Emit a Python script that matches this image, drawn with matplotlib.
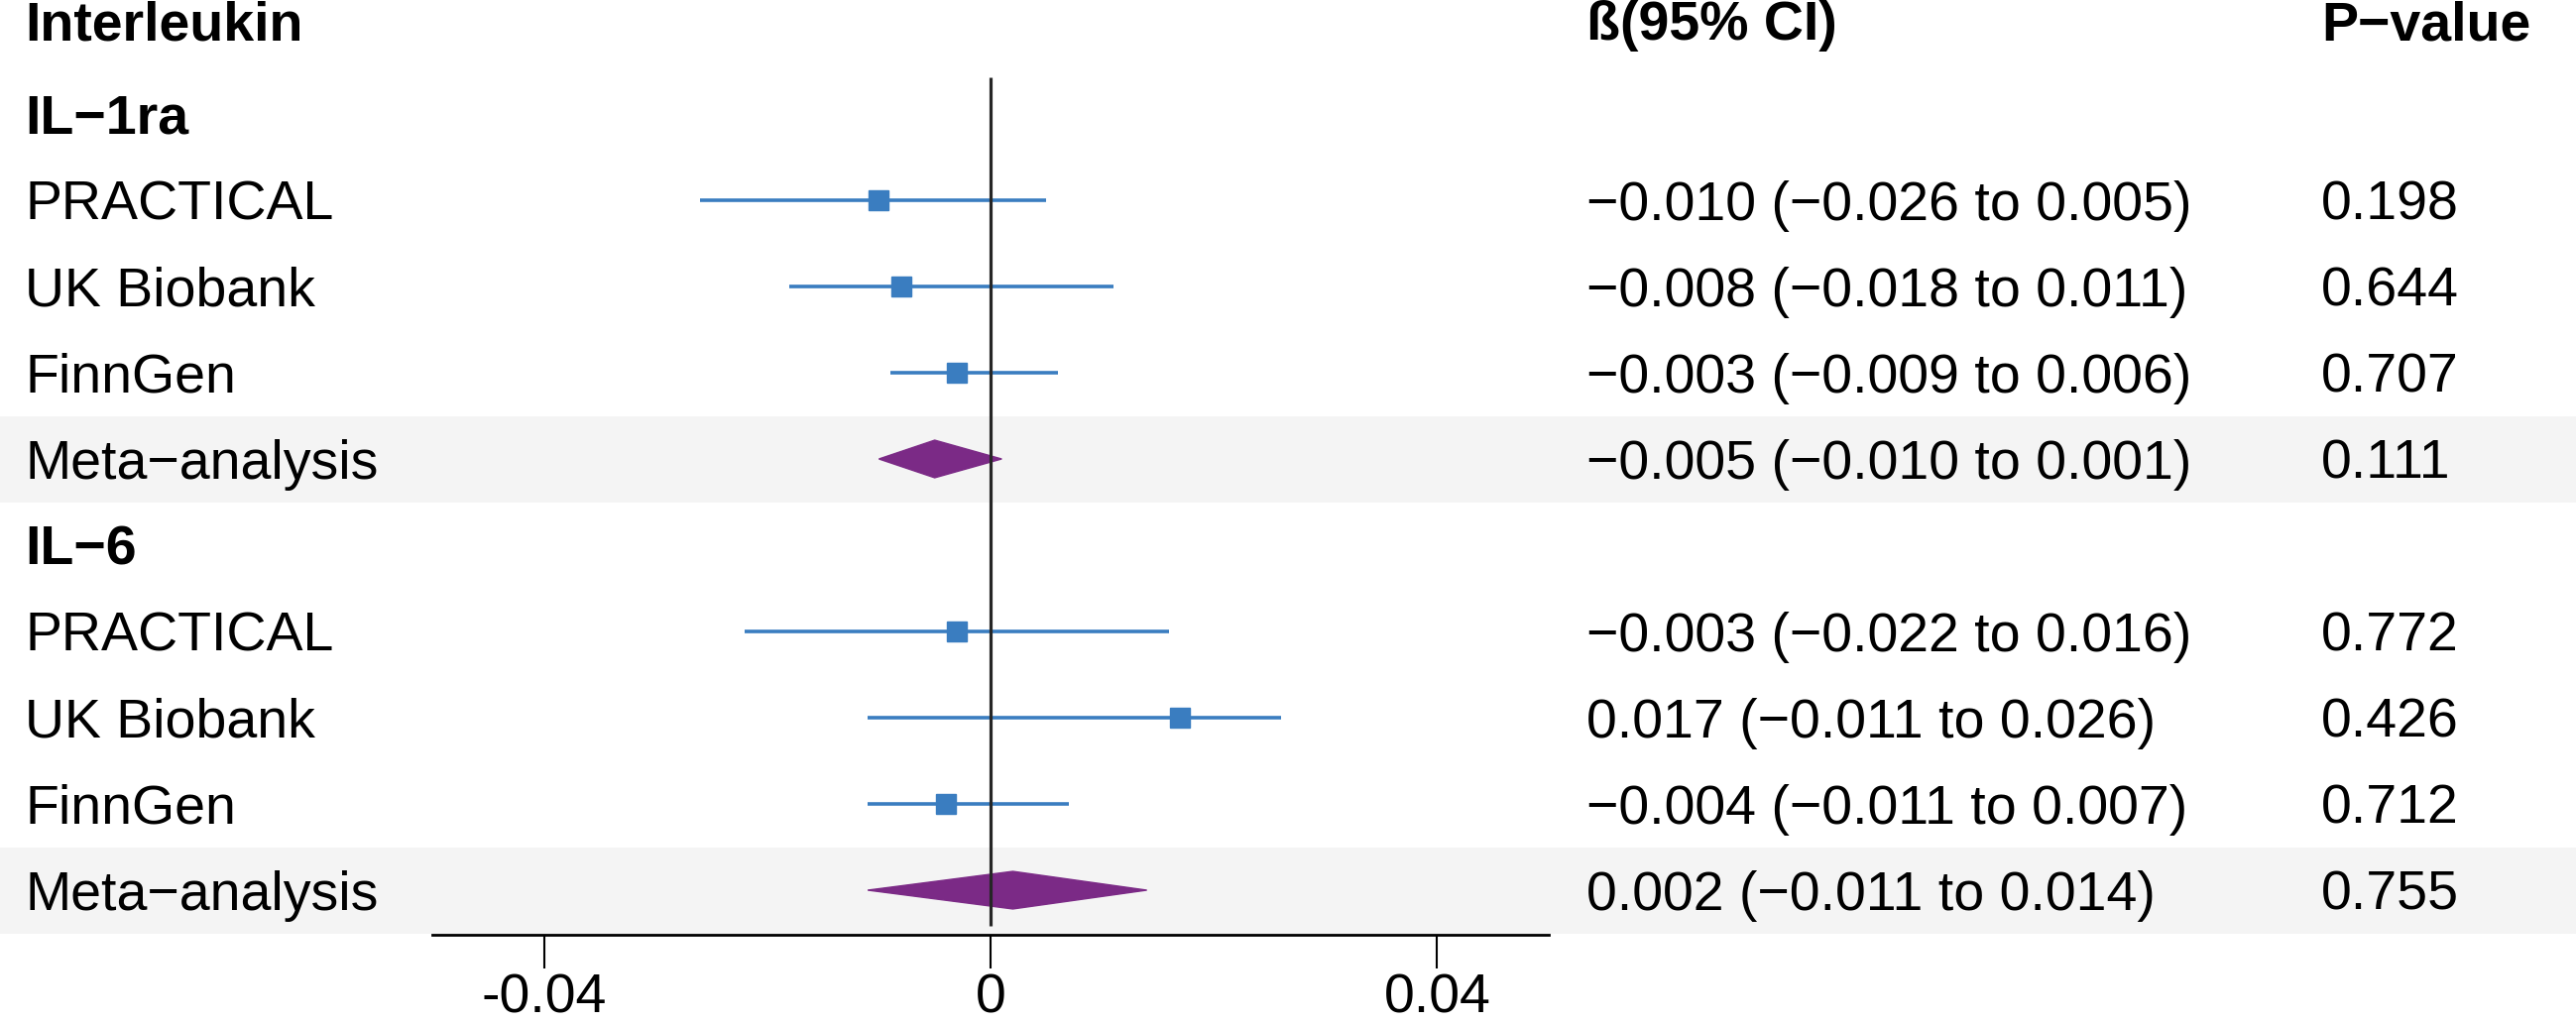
import matplotlib
matplotlib.use("Agg")
import matplotlib.pyplot as plt
import matplotlib.transforms as mtransforms
from matplotlib.patches import Rectangle, Polygon

plt.rcParams['font.family'] = ['Liberation Sans', 'DejaVu Sans']

# rows: 0 is the column header, groups start with a bold name
groups = ["IL\u22121ra", "IL\u22126"]
studies = ["PRACTICAL", "UK Biobank", "FinnGen", "Meta\u2212analysis"]
beta = [[-0.010, -0.008, -0.003, -0.005],
        [-0.003, 0.017, -0.004, 0.002]]
ci_lo = [[-0.026, -0.018, -0.009, -0.010],
         [-0.022, -0.011, -0.011, -0.011]]
ci_hi = [[0.005, 0.011, 0.006, 0.001],
         [0.016, 0.026, 0.007, 0.014]]
pvals = [[0.198, 0.644, 0.707, 0.111],
         [0.772, 0.426, 0.712, 0.755]]
xticks = [-0.04, 0, 0.04]
xticklabels = ["-0.04", "0", "0.04"]

W, H = 2598, 1032
fig = plt.figure(figsize=(W / 100, H / 100), dpi=100)
ax = fig.add_axes([436 / W, (H - 943) / H, 1126 / W, 943 / H])
ax.patch.set_visible(False)
ax.set_xlim(-0.05, 0.05)
ax.set_ylim((943 - 28) / 87, (0 - 28) / 87)  # row i centred at 28 + 87*i px

blue = "#3A7DC0"
purple = "#7B2A86"
fs = 40
base = 0.228  # baseline offset below row centre
blend = mtransforms.blended_transform_factory(fig.transFigure, ax.transData)
x_lab, x_ci, x_p = 25 / W, 1600 / W, 2341 / W

# header
ax.text(x_lab, 0.138, "Interleukin", transform=blend, fontsize=fs, fontweight="bold", va="baseline")
ax.text(x_ci, 0.138, "\u00df(95% CI)", transform=blend, fontsize=fs, fontweight="bold", va="baseline")
ax.text(x_p, 0.138, "P\u2212value", transform=blend, fontsize=fs, fontweight="bold", va="baseline")

def fmt(v):
    return ("%.3f" % v).replace("-", "\u2212")

row = 1
for g in range(len(groups)):
    ax.text(x_lab, row + base, groups[g], transform=blend, fontsize=fs, fontweight="bold", va="baseline")
    row += 1
    for s in range(len(studies)):
        b, lo, hi = beta[g][s], ci_lo[g][s], ci_hi[g][s]
        if studies[s].startswith("Meta"):
            ax.add_patch(Rectangle((0, row - 0.5), 1, 1, transform=blend, facecolor="#F4F4F4",
                                   edgecolor="none", clip_on=False, zorder=0))
            h = 0.218
            ax.add_patch(Polygon([(lo, row), (b, row - h), (hi, row), (b, row + h)], closed=True,
                                 facecolor=purple, edgecolor=purple, zorder=3))
        else:
            ax.plot([lo, hi], [row, row], color=blue, lw=2.6, solid_capstyle="butt", zorder=3)
            ax.plot([b], [row], marker="s", ms=13.7, color=blue, mec=blue, zorder=4)
        ax.text(x_lab, row + base, studies[s], transform=blend, fontsize=fs, va="baseline")
        ax.text(x_ci, row + base, "%s (%s to %s)" % (fmt(b), fmt(lo), fmt(hi)),
                transform=blend, fontsize=fs, va="baseline")
        ax.text(x_p, row + base, "%.3f" % pvals[g][s], transform=blend, fontsize=fs, va="baseline")
        row += 1

# zero line
ax.vlines(0, (78 - 28) / 87, (934 - 28) / 87, color="#262626", lw=2.3, zorder=5)

for side in ["top", "left", "right"]:
    ax.spines[side].set_visible(False)
ax.spines["bottom"].set_linewidth(2.0)
ax.set_yticks([])
ax.set_xticks(xticks)
ax.set_xticklabels(xticklabels)
ax.tick_params(axis="x", length=24.5, width=1.5, pad=3, labelsize=fs)

fig.savefig("out.png", dpi=100)
